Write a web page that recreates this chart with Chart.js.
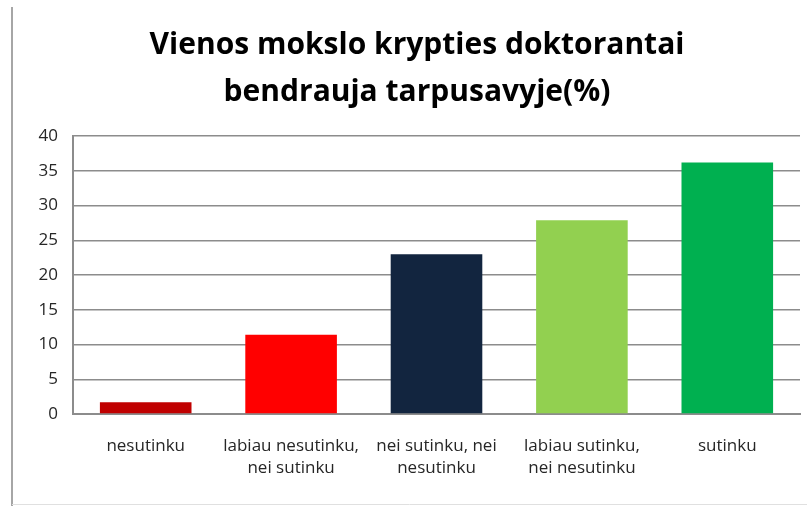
<!DOCTYPE html>
<html>
<head>
<meta charset="utf-8">
<script src="https://cdn.jsdelivr.net/npm/chart.js@4.4.1/dist/chart.umd.min.js"></script>
<style>
  html, body { margin: 0; padding: 0; background: #fff; }
  #wrap { width: 807px; height: 506px; }
</style>
</head>
<body>
<div id="wrap"><canvas id="graph1"></canvas></div>
<script>
// atsakymu kategorijos ir procentai
var categories = [
    ['nesutinku'],
    ['labiau nesutinku,', 'nei sutinku'],
    ['nei sutinku, nei', 'nesutinku'],
    ['labiau sutinku,', 'nei nesutinku'],
    ['sutinku']
];
var percents = [1.7, 11.4, 23.0, 27.9, 36.2];
var barColors = ['#C00000', '#FF0000', '#12253F', '#92D050', '#00B050'];
var titleLines = ['Vienos mokslo krypties doktorantai', 'bendrauja tarpusavyje(%)'];

// remelis aplink diagrama
var framePlugin = {
    id: 'frame',
    beforeDraw: function (chart) {
        var c = chart.ctx;
        c.save();
        c.fillStyle = '#fff';
        c.fillRect(0, 0, chart.width, chart.height);
        c.strokeStyle = '#a6a6a6';
        c.lineWidth = 2;
        c.beginPath();
        c.moveTo(12, 7);
        c.lineTo(12, chart.height);
        c.stroke();
        c.strokeStyle = '#e0e0e0';
        c.lineWidth = 1;
        c.beginPath();
        c.moveTo(12, chart.height - 1.5);
        c.lineTo(chart.width, chart.height - 1.5);
        c.stroke();
        c.restore();
    }
};

var ctx = document.getElementById("graph1").getContext("2d");

var config = {
    type: 'bar',
    data: {
        labels: categories,
        datasets: [{
            data: percents,
            backgroundColor: barColors,
            borderWidth: 0,
            barPercentage: 0.63,
            categoryPercentage: 1
        }]
    },
    options: {
        responsive: true,
        maintainAspectRatio: false,
        animation: false,
        layout: {
            padding: { left: 34, right: 7, top: 0, bottom: 0 }
        },
        plugins: {
            legend: { display: false },
            tooltip: { enabled: false },
            title: {
                display: true,
                text: titleLines,
                color: '#000',
                font: { family: '"Open Sans", sans-serif', size: 30, weight: 'bold', lineHeight: 1.57 },
                padding: { top: 22, bottom: 20 }
            }
        },
        scales: {
            x: {
                grid: { display: false, drawTicks: false },
                border: { display: true, color: '#8c8c8c', width: 2 },
                ticks: {
                    color: '#262626',
                    padding: 21,
                    maxRotation: 0,
                    autoSkip: false,
                    font: { family: '"Open Sans", sans-serif', size: 17, lineHeight: 1.3 }
                },
                afterFit: function (scale) { scale.height = 92; }
            },
            y: {
                min: 0,
                max: 40,
                ticks: {
                    stepSize: 5,
                    color: '#262626',
                    padding: 15,
                    font: { family: '"Open Sans", sans-serif', size: 17 }
                },
                grid: { color: '#8c8c8c', lineWidth: 1.5, drawTicks: false },
                border: { display: true, color: '#8c8c8c', width: 2 },
                afterFit: function (scale) { scale.width = 39; }
            }
        }
    },
    plugins: [framePlugin]
};

var graph1 = new Chart(ctx, config);
</script>
</body>
</html>
